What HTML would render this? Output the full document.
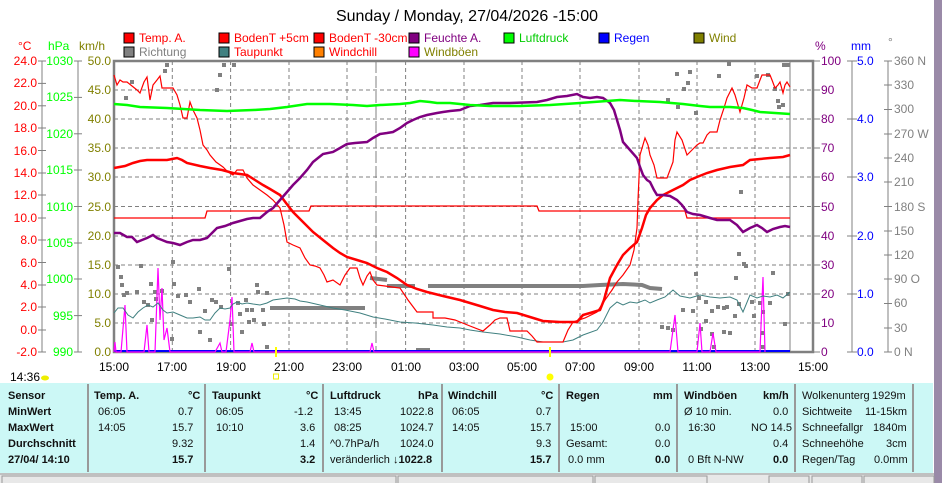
<!DOCTYPE html>
<html><head><meta charset="utf-8"><style>
body{margin:0;width:942px;height:483px;overflow:hidden;background:#fff;font-family:"Liberation Sans",sans-serif;}
svg{position:absolute;left:0;top:0}
.t{position:absolute;font-size:11px;color:#111;white-space:nowrap}
.b{font-weight:bold}
</style></head><body>
<svg width="942" height="483" xmlns="http://www.w3.org/2000/svg" font-family="Liberation Sans, sans-serif">
<rect x="934" y="0" width="8" height="483" fill="#9a8aa8"/>
<text x="467" y="21" font-size="16" text-anchor="middle" fill="#000">Sunday / Monday, 27/04/2026 -15:00</text>
<g font-size="12">
<rect x="124" y="33" width="10" height="10" fill="#f00" stroke="#000"/><text x="139" y="42" fill="#f00">Temp. A.</text>
<rect x="219" y="33" width="10" height="10" fill="#f00" stroke="#000"/><text x="234" y="42" fill="#f00">BodenT +5cm</text>
<rect x="314" y="33" width="10" height="10" fill="#f00" stroke="#000"/><text x="329" y="42" fill="#f00">BodenT -30cm</text>
<rect x="409" y="33" width="10" height="10" fill="#800080" stroke="#000"/><text x="424" y="42" fill="#800080">Feuchte A.</text>
<rect x="504" y="33" width="10" height="10" fill="#0f0" stroke="#000"/><text x="519" y="42" fill="#0c0">Luftdruck</text>
<rect x="599" y="33" width="10" height="10" fill="#00f" stroke="#000"/><text x="614" y="42" fill="#00f">Regen</text>
<rect x="694" y="33" width="10" height="10" fill="#808000" stroke="#000"/><text x="709" y="42" fill="#808000">Wind</text>
<rect x="124" y="47" width="10" height="10" fill="#808080" stroke="#000"/><text x="139" y="56" fill="#808080">Richtung</text>
<rect x="219" y="47" width="10" height="10" fill="#408080" stroke="#000"/><text x="234" y="56" fill="#f00">Taupunkt</text>
<rect x="314" y="47" width="10" height="10" fill="#ff8000" stroke="#000"/><text x="329" y="56" fill="#f00">Windchill</text>
<rect x="409" y="47" width="10" height="10" fill="#f0f" stroke="#000"/><text x="424" y="56" fill="#808000">Windböen</text>
</g>
<g font-size="12">
<text x="18" y="50" fill="#f00">°C</text><text x="48" y="50" fill="#0f0">hPa</text><text x="79" y="50" fill="#808000">km/h</text>
<text x="815" y="50" fill="#800080">%</text><text x="851" y="50" fill="#00f">mm</text><text x="888" y="46" fill="#808080">°</text>
</g>
<g stroke="#808080" stroke-dasharray="4,3" stroke-width="1">
<line x1="114" y1="90" x2="813" y2="90"/><line x1="114" y1="119" x2="813" y2="119"/><line x1="114" y1="148" x2="813" y2="148"/><line x1="114" y1="177" x2="813" y2="177"/><line x1="114" y1="206.5" x2="813" y2="206.5"/><line x1="114" y1="236" x2="813" y2="236"/><line x1="114" y1="265" x2="813" y2="265"/><line x1="114" y1="294" x2="813" y2="294"/><line x1="114" y1="323" x2="813" y2="323"/>
<line x1="172.3" y1="61" x2="172.3" y2="352"/><line x1="230.6" y1="61" x2="230.6" y2="352"/><line x1="289" y1="61" x2="289" y2="352"/><line x1="347" y1="61" x2="347" y2="352"/><line x1="405.6" y1="61" x2="405.6" y2="352"/><line x1="464" y1="61" x2="464" y2="352"/><line x1="522" y1="61" x2="522" y2="352"/><line x1="580" y1="61" x2="580" y2="352"/><line x1="639" y1="61" x2="639" y2="352"/><line x1="697" y1="61" x2="697" y2="352"/><line x1="755" y1="61" x2="755" y2="352"/>
</g>
<line x1="376" y1="61" x2="376" y2="352" stroke="#808080" stroke-dasharray="12,3"/>
<line x1="790" y1="61" x2="790" y2="352" stroke="#808080"/>
<rect x="114" y="61" width="699" height="291" fill="none" stroke="#808080" stroke-width="2.5"/>
<g stroke="#808080"><line x1="42" y1="61" x2="42" y2="352"/><line x1="78" y1="61" x2="78" y2="352"/></g>
<g font-size="12" fill="#f00" text-anchor="end">
<text x="37" y="65">24.0</text><text x="37" y="87">22.0</text><text x="37" y="110">20.0</text><text x="37" y="132">18.0</text><text x="37" y="155">16.0</text><text x="37" y="177">14.0</text><text x="37" y="199">12.0</text><text x="37" y="222">10.0</text><text x="37" y="244">8.0</text><text x="37" y="267">6.0</text><text x="37" y="289">4.0</text><text x="37" y="311">2.0</text><text x="37" y="334">0.0</text><text x="37" y="356">-2.0</text>
</g>
<g stroke="#808080"><line x1="38" y1="61" x2="46" y2="61"/><line x1="38" y1="83.4" x2="46" y2="83.4"/><line x1="38" y1="105.8" x2="46" y2="105.8"/><line x1="38" y1="128" x2="46" y2="128"/><line x1="38" y1="150.5" x2="46" y2="150.5"/><line x1="38" y1="173" x2="46" y2="173"/><line x1="38" y1="195" x2="46" y2="195"/><line x1="38" y1="218" x2="46" y2="218"/><line x1="38" y1="240" x2="46" y2="240"/><line x1="38" y1="262.5" x2="46" y2="262.5"/><line x1="38" y1="285" x2="46" y2="285"/><line x1="38" y1="307" x2="46" y2="307"/><line x1="38" y1="330" x2="46" y2="330"/><line x1="38" y1="352" x2="46" y2="352"/>
<line x1="74" y1="61" x2="82" y2="61"/><line x1="74" y1="97.4" x2="82" y2="97.4"/><line x1="74" y1="133.8" x2="82" y2="133.8"/><line x1="74" y1="170" x2="82" y2="170"/><line x1="74" y1="206.5" x2="82" y2="206.5"/><line x1="74" y1="243" x2="82" y2="243"/><line x1="74" y1="279" x2="82" y2="279"/><line x1="74" y1="315.6" x2="82" y2="315.6"/><line x1="74" y1="352" x2="82" y2="352"/></g>
<g font-size="12" fill="#0f0" text-anchor="end">
<text x="73" y="65">1030</text><text x="73" y="101">1025</text><text x="73" y="138">1020</text><text x="73" y="174">1015</text><text x="73" y="211">1010</text><text x="73" y="247">1005</text><text x="73" y="283">1000</text><text x="73" y="320">995</text><text x="73" y="356">990</text>
</g>
<g font-size="12" fill="#808000" text-anchor="end">
<text x="111" y="65">50.0</text><text x="111" y="94">45.0</text><text x="111" y="123">40.0</text><text x="111" y="152">35.0</text><text x="111" y="181">30.0</text><text x="111" y="211">25.0</text><text x="111" y="240">20.0</text><text x="111" y="269">15.0</text><text x="111" y="298">10.0</text><text x="111" y="327">5.0</text><text x="111" y="356">0.0</text>
</g>
<g stroke="#808080"><line x1="852" y1="61" x2="852" y2="352"/><line x1="888" y1="61" x2="888" y2="352"/>
<line x1="813" y1="61" x2="820" y2="61"/><line x1="813" y1="90" x2="820" y2="90"/><line x1="813" y1="119" x2="820" y2="119"/><line x1="813" y1="148" x2="820" y2="148"/><line x1="813" y1="177" x2="820" y2="177"/><line x1="813" y1="206.5" x2="820" y2="206.5"/><line x1="813" y1="236" x2="820" y2="236"/><line x1="813" y1="265" x2="820" y2="265"/><line x1="813" y1="294" x2="820" y2="294"/><line x1="813" y1="323" x2="820" y2="323"/><line x1="813" y1="352" x2="820" y2="352"/>
<line x1="847" y1="61" x2="857" y2="61"/><line x1="847" y1="119" x2="857" y2="119"/><line x1="847" y1="177" x2="857" y2="177"/><line x1="847" y1="236" x2="857" y2="236"/><line x1="847" y1="294" x2="857" y2="294"/><line x1="847" y1="352" x2="857" y2="352"/>
</g>
<g font-size="12" fill="#800080"><text x="821" y="65">100</text><text x="821" y="94">90</text><text x="821" y="123">80</text><text x="821" y="152">70</text><text x="821" y="181">60</text><text x="821" y="211">50</text><text x="821" y="240">40</text><text x="821" y="269">30</text><text x="821" y="298">20</text><text x="821" y="327">10</text><text x="821" y="356">0</text></g>
<g font-size="12" fill="#00f"><text x="857" y="65">5.0</text><text x="857" y="123">4.0</text><text x="857" y="181">3.0</text><text x="857" y="240">2.0</text><text x="857" y="298">1.0</text><text x="857" y="356">0.0</text></g>
<g font-size="12" fill="#808080">
<text x="894" y="65">360 N</text><text x="894" y="89">330</text><text x="894" y="113">300</text><text x="894" y="138">270 W</text><text x="894" y="162">240</text><text x="894" y="186">210</text><text x="894" y="211">180 S</text><text x="894" y="235">150</text><text x="894" y="259">120</text><text x="894" y="283">90  O</text><text x="894" y="307">60</text><text x="894" y="332">30</text><text x="894" y="356">0   N</text>
</g>
<g stroke="#808080"><line x1="884" y1="61" x2="892" y2="61"/><line x1="884" y1="85" x2="892" y2="85"/><line x1="884" y1="109.5" x2="892" y2="109.5"/><line x1="884" y1="134" x2="892" y2="134"/><line x1="884" y1="158" x2="892" y2="158"/><line x1="884" y1="182" x2="892" y2="182"/><line x1="884" y1="206.5" x2="892" y2="206.5"/><line x1="884" y1="231" x2="892" y2="231"/><line x1="884" y1="255" x2="892" y2="255"/><line x1="884" y1="279" x2="892" y2="279"/><line x1="884" y1="303.5" x2="892" y2="303.5"/><line x1="884" y1="328" x2="892" y2="328"/><line x1="884" y1="352" x2="892" y2="352"/></g>
<g fill="#808080">
<rect x="124" y="96" width="4" height="4"/><rect x="130" y="80" width="4" height="4"/><rect x="163" y="69" width="4" height="4"/><rect x="165" y="63" width="4" height="4"/><rect x="215" y="88" width="4" height="4"/><rect x="218" y="73" width="4" height="4"/><rect x="222" y="63" width="4" height="4"/><rect x="232" y="63" width="4" height="4"/>
<rect x="116" y="265" width="4" height="4"/><rect x="119" y="275" width="4" height="4"/><rect x="120" y="283" width="4" height="4"/><rect x="122" y="293" width="4" height="4"/><rect x="139" y="264" width="4" height="4"/><rect x="149" y="282" width="4" height="4"/><rect x="153" y="290" width="4" height="4"/><rect x="146" y="303" width="4" height="4"/><rect x="160" y="289" width="4" height="4"/><rect x="125" y="291" width="4" height="4"/><rect x="135" y="290" width="4" height="4"/><rect x="142" y="300" width="4" height="4"/><rect x="150" y="318" width="4" height="4"/><rect x="171" y="260" width="4" height="4"/><rect x="172" y="282" width="4" height="4"/><rect x="176" y="294" width="4" height="4"/><rect x="184" y="293" width="4" height="4"/><rect x="188" y="300" width="4" height="4"/><rect x="197" y="287" width="4" height="4"/><rect x="203" y="309" width="4" height="4"/><rect x="210" y="298" width="4" height="4"/><rect x="214" y="300" width="4" height="4"/><rect x="219" y="305" width="4" height="4"/><rect x="227" y="267" width="4" height="4"/><rect x="236" y="301" width="4" height="4"/><rect x="244" y="298" width="4" height="4"/><rect x="250" y="308" width="4" height="4"/><rect x="256" y="290" width="4" height="4"/><rect x="261" y="308" width="4" height="4"/><rect x="170" y="337" width="4" height="4"/><rect x="154" y="297" width="4" height="4"/>
<rect x="198" y="330" width="4" height="4"/><rect x="240" y="330" width="4" height="4"/><rect x="245" y="308" width="4" height="4"/><rect x="247" y="320" width="4" height="4"/><rect x="252" y="318" width="4" height="4"/><rect x="255" y="283" width="4" height="4"/><rect x="262" y="322" width="4" height="4"/><rect x="265" y="291" width="4" height="4"/>
<rect x="675" y="72" width="4" height="4"/><rect x="682" y="87" width="4" height="4"/><rect x="686" y="81" width="4" height="4"/><rect x="688" y="70" width="4" height="4"/><rect x="666" y="98" width="4" height="4"/><rect x="676" y="105" width="4" height="4"/><rect x="694" y="111" width="4" height="4"/><rect x="717" y="74" width="4" height="4"/><rect x="727" y="62" width="4" height="4"/><rect x="755" y="74" width="4" height="4"/><rect x="766" y="73" width="4" height="4"/><rect x="773" y="87" width="4" height="4"/><rect x="776" y="99" width="4" height="4"/><rect x="777" y="105" width="4" height="4"/><rect x="782" y="63" width="4" height="4"/><rect x="786" y="63" width="4" height="4"/><rect x="781" y="103" width="4" height="4"/>
<rect x="739" y="190" width="4" height="4"/><rect x="737" y="252" width="4" height="4"/><rect x="742" y="262" width="4" height="4"/><rect x="744" y="264" width="4" height="4"/><rect x="734" y="276" width="4" height="4"/><rect x="771" y="271" width="4" height="4"/><rect x="694" y="272" width="4" height="4"/><rect x="786" y="292" width="4" height="4"/><rect x="697" y="296" width="4" height="4"/><rect x="704" y="300" width="4" height="4"/><rect x="710" y="309" width="4" height="4"/><rect x="716" y="305" width="4" height="4"/><rect x="722" y="306" width="4" height="4"/><rect x="725" y="305" width="4" height="4"/><rect x="737" y="302" width="4" height="4"/><rect x="750" y="300" width="4" height="4"/><rect x="758" y="301" width="4" height="4"/><rect x="761" y="310" width="4" height="4"/><rect x="768" y="301" width="4" height="4"/><rect x="752" y="314" width="4" height="4"/><rect x="783" y="322" width="4" height="4"/><rect x="733" y="314" width="4" height="4"/><rect x="691" y="309" width="4" height="4"/><rect x="681" y="308" width="4" height="4"/><rect x="660" y="325" width="4" height="4"/><rect x="666" y="326" width="4" height="4"/><rect x="671" y="328" width="4" height="4"/><rect x="699" y="327" width="4" height="4"/><rect x="704" y="319" width="4" height="4"/><rect x="710" y="332" width="4" height="4"/><rect x="722" y="330" width="4" height="4"/><rect x="728" y="331" width="4" height="4"/><rect x="712" y="345" width="4" height="4"/><rect x="761" y="331" width="4" height="4"/><rect x="761" y="345" width="4" height="4"/>
<rect x="229" y="322" width="4" height="4"/><rect x="238" y="312" width="4" height="4"/><rect x="265" y="345" width="4" height="4"/><rect x="208" y="338" width="4" height="4"/>
</g>
<g stroke="#808080" stroke-width="4" fill="none">
<polyline points="270,308 365,308"/><polyline points="370,278 387,280"/><polyline points="387,286 415,286"/><polyline points="428,286 583,286 600,285 623,284 642,285 650,288 662,289"/>
<polyline points="416,350 430,350"/>
</g>
<line x1="114" y1="351" x2="790" y2="351" stroke="#00f" stroke-width="2"/>
<polyline fill="none" stroke="#f0f" stroke-width="1.2" points="114,352 115,342 116,352 121,352 125,305 127,352 144,352 147,325 149,352 155,352 158,268 160,320 162,288 164,340 167,328 170,352 215,352 220,343 222,352 226,352 230,320 232,297 234,352 250,352 252,343 254,352 370,352 372,343 374,352 670,352 675,315 678,352 697,352 700,323 702,352 710,352 713,333 716,352 760,352 762,300 763,277 765,352"/>
<polyline fill="none" stroke="#408080" stroke-width="1" points="114,313 118,308 123,308 128,315 133,318 138,312 143,308 148,305 153,307 158,303 163,310 167,313 173,312 180,315 187,318 193,318 200,317 205,320 210,320 215,313 220,308 225,309 230,308 233,304 237,302 242,304 247,303 253,304 260,305 267,303 273,300 280,299 287,298 295,299 300,301 307,302 320,305 333,308 345,310 360,313 373,317 385,319 400,322 415,323 433,325 447,327 460,328 470,330 483,332 500,334 517,337 530,340 543,342 563,342 573,340 583,335 597,330 603,322 610,308 617,302 623,305 630,302 637,303 645,300 650,303 657,300 665,297 673,290 680,296 690,298 700,295 710,297 720,298 730,297 737,300 743,312 750,295 757,298 763,296 770,297 777,295 783,298 790,292"/>
<polyline fill="none" stroke="#f00" stroke-width="1.3" points="114,218 205,218 207,211 309,211 311,206 537,206 539,211 685,211 687,218 790,218"/>
<polyline fill="none" stroke="#f00" stroke-width="1.2" points="114,75 117,85 120,80 123,82 127,82 132,86 137,90 140,93 144,82 147,77 150,100 153,85 157,80 160,76 162,88 165,88 170,88 173,88 177,95 180,105 183,118 187,118 190,102 193,110 197,118 200,130 203,145 207,150 210,155 216,162 223,167 228,172 233,175 237,170 243,170 247,178 253,185 260,190 267,195 273,200 280,208 284,225 287,242 293,245 300,248 305,258 310,265 315,266 320,268 324,275 327,282 333,280 340,285 345,275 350,268 357,268 360,278 363,285 367,276 370,272 373,280 377,285 385,286 392,287 400,288 408,300 417,312 425,312 433,312 433,318 445,318 455,320 460,322 470,326 483,331 490,325 495,320 500,318 507,318 510,331 520,331 527,331 532,336 537,342 550,342 563,342 568,330 573,322 585,318 597,312 605,300 612,290 617,282 623,275 630,265 634,250 637,228 638,200 640,155 645,138 648,145 650,155 654,165 657,178 662,178 667,178 670,170 673,162 675,140 677,132 682,140 687,155 692,150 697,145 700,143 703,143 707,135 710,132 717,132 720,120 724,108 727,98 732,88 735,95 740,112 744,98 747,85 752,88 757,88 760,80 762,75 766,75 770,75 772,80 775,88 778,85 780,82 783,93 785,85 787,82 790,87"/>
<polyline fill="none" stroke="#f00" stroke-width="2.5" points="114,168 125,166 133,163 140,161 147,160 160,160 167,160 172,159 177,158 182,160 187,163 200,166 210,168 222,170 233,173 240,174 247,175 255,180 263,185 270,189 280,195 286,203 293,212 303,222 313,232 323,240 333,248 340,253 347,257 357,260 367,263 377,268 387,272 397,278 407,285 417,289 427,292 443,296 460,300 470,303 480,306 493,310 505,312 517,313 530,317 543,321 560,322 577,322 583,315 590,313 600,310 604,300 610,278 617,265 623,255 630,248 637,242 642,228 646,215 650,208 657,200 663,195 673,190 683,185 690,180 697,177 707,173 717,170 730,167 743,165 750,160 760,159 770,158 783,157 790,155"/>
<polyline fill="none" stroke="#800080" stroke-width="2.5" points="114,233 120,233 127,237 132,237 137,242 142,240 147,238 153,235 157,238 162,240 167,242 173,243 180,245 187,242 193,240 200,240 207,238 212,233 217,228 225,226 233,223 240,221 247,219 253,218 260,218 267,212 273,208 280,200 287,192 293,185 300,178 307,170 313,162 318,158 323,154 333,152 340,148 347,144 355,143 367,142 373,138 380,134 387,133 393,132 400,128 407,123 413,120 420,117 427,115 437,113 443,112 450,111 460,110 470,106 480,105 493,103 510,103 537,102 547,100 557,97 567,96 577,94 583,97 590,98 597,97 603,98 606,100 610,103 614,110 617,120 620,130 623,142 630,150 637,158 640,167 643,175 647,180 650,182 654,190 657,195 663,195 670,196 677,200 682,205 687,212 693,214 700,215 710,218 717,220 730,220 737,225 743,232 750,228 757,225 762,228 767,232 773,229 780,227 785,226 790,227"/>
<polyline fill="none" stroke="#0f0" stroke-width="2.5" points="114,104 127,105 140,107 167,108 200,110 227,111 253,110 270,109 287,107 307,104 330,104 353,105 367,106 380,105 400,104 410,103 420,101 430,102 437,103 450,103 470,105 490,106 520,106 550,105 580,103 607,101 620,100 637,101 660,102 683,104 700,106 710,107 730,107 743,108 752,110 760,112 775,113 790,114"/>
<rect x="275" y="347" width="2" height="10" fill="#ff0"/>
<rect x="273.5" y="374" width="5" height="5" fill="none" stroke="#ee0"/>
<rect x="549" y="347" width="2" height="10" fill="#ff0"/>
<circle cx="550" cy="377" r="3.5" fill="#ff0"/>
<ellipse cx="45" cy="378" rx="4" ry="2.5" fill="#ee0"/>
<g font-size="12" text-anchor="middle" fill="#000">
<text x="114" y="371">15:00</text><text x="172" y="371">17:00</text><text x="231" y="371">19:00</text><text x="289" y="371">21:00</text><text x="347" y="371">23:00</text><text x="406" y="371">01:00</text><text x="464" y="371">03:00</text><text x="522" y="371">05:00</text><text x="580" y="371">07:00</text><text x="639" y="371">09:00</text><text x="697" y="371">11:00</text><text x="755" y="371">13:00</text><text x="813" y="371">15:00</text>
</g>
<text x="10" y="381" font-size="12" fill="#000">14:36</text>
<rect x="0" y="383" width="933" height="90" fill="#ccf8f6"/>
<g stroke="#999" stroke-width="2"><line x1="88" y1="384" x2="88" y2="472"/><line x1="205" y1="384" x2="205" y2="472"/><line x1="323" y1="384" x2="323" y2="472"/><line x1="442" y1="384" x2="442" y2="472"/><line x1="559" y1="384" x2="559" y2="472"/><line x1="677" y1="384" x2="677" y2="472"/><line x1="795" y1="384" x2="795" y2="472"/><line x1="913" y1="384" x2="913" y2="472"/></g>
<rect x="0" y="473" width="934" height="10" fill="#e8e8e8"/>
<line x1="0" y1="474" x2="934" y2="474" stroke="#999"/>
<g stroke="#999" fill="none"><rect x="2" y="476" width="394" height="8"/><rect x="398" y="476" width="195" height="8"/><rect x="595" y="476" width="112" height="8"/><rect x="769" y="476" width="40" height="8"/><rect x="812" y="476" width="50" height="8"/><rect x="864" y="476" width="70" height="8"/></g>
</svg>
<div class="t b" style="left:8px;top:390px">Sensor</div>
<div class="t b" style="left:8px;top:406px">MinWert</div>
<div class="t b" style="left:8px;top:422px">MaxWert</div>
<div class="t b" style="left:8px;top:438px">Durchschnitt</div>
<div class="t b" style="left:8px;top:454px">27/04/ 14:10</div>

<div class="t b" style="left:94px;top:390px">Temp. A.</div><div class="t b" style="left:188px;top:390px">°C</div>
<div class="t" style="left:98px;top:406px">06:05</div><div class="t" style="left:178px;top:406px">0.7</div>
<div class="t" style="left:98px;top:422px">14:05</div><div class="t" style="left:172px;top:422px">15.7</div>
<div class="t" style="left:172px;top:438px">9.32</div>
<div class="t b" style="left:172px;top:454px">15.7</div>

<div class="t b" style="left:212px;top:390px">Taupunkt</div><div class="t b" style="left:306px;top:390px">°C</div>
<div class="t" style="left:216px;top:406px">06:05</div><div class="t" style="left:294px;top:406px">-1.2</div>
<div class="t" style="left:216px;top:422px">10:10</div><div class="t" style="left:300px;top:422px">3.6</div>
<div class="t" style="left:300px;top:438px">1.4</div>
<div class="t b" style="left:300px;top:454px">3.2</div>

<div class="t b" style="left:330px;top:390px">Luftdruck</div><div class="t b" style="left:418px;top:390px">hPa</div>
<div class="t" style="left:334px;top:406px">13:45</div><div class="t" style="left:400px;top:406px">1022.8</div>
<div class="t" style="left:334px;top:422px">08:25</div><div class="t" style="left:400px;top:422px">1024.7</div>
<div class="t" style="left:330px;top:438px">^0.7hPa/h</div><div class="t" style="left:400px;top:438px">1024.0</div>
<div class="t" style="left:330px;top:454px">veränderlich <b>↓1022.8</b></div>

<div class="t b" style="left:448px;top:390px">Windchill</div><div class="t b" style="left:541px;top:390px">°C</div>
<div class="t" style="left:452px;top:406px">06:05</div><div class="t" style="left:536px;top:406px">0.7</div>
<div class="t" style="left:452px;top:422px">14:05</div><div class="t" style="left:530px;top:422px">15.7</div>
<div class="t" style="left:536px;top:438px">9.3</div>
<div class="t b" style="left:530px;top:454px">15.7</div>

<div class="t b" style="left:566px;top:390px">Regen</div><div class="t b" style="left:653px;top:390px">mm</div>
<div class="t" style="left:570px;top:422px">15:00</div><div class="t" style="left:655px;top:422px">0.0</div>
<div class="t" style="left:566px;top:438px">Gesamt:</div><div class="t" style="left:655px;top:438px">0.0</div>
<div class="t" style="left:568px;top:454px">0.0 mm</div><div class="t b" style="left:655px;top:454px">0.0</div>

<div class="t b" style="left:684px;top:390px">Windböen</div><div class="t b" style="left:763px;top:390px">km/h</div>
<div class="t" style="left:684px;top:406px">Ø 10 min.</div><div class="t" style="left:773px;top:406px">0.0</div>
<div class="t" style="left:688px;top:422px">16:30</div><div class="t" style="left:751px;top:422px">NO 14.5</div>
<div class="t" style="left:773px;top:438px">0.4</div>
<div class="t" style="left:688px;top:454px">0 Bft N-NW</div><div class="t b" style="left:773px;top:454px">0.0</div>

<div class="t" style="left:802px;top:390px">Wolkenunterg</div><div class="t" style="left:872px;top:390px">1929m</div>
<div class="t" style="left:802px;top:406px">Sichtweite</div><div class="t" style="left:865px;top:406px">11-15km</div>
<div class="t" style="left:802px;top:422px">Schneefallgr</div><div class="t" style="left:873px;top:422px">1840m</div>
<div class="t" style="left:802px;top:438px">Schneehöhe</div><div class="t" style="left:886px;top:438px">3cm</div>
<div class="t" style="left:802px;top:454px">Regen/Tag</div><div class="t" style="left:874px;top:454px">0.0mm</div>
</body></html>
